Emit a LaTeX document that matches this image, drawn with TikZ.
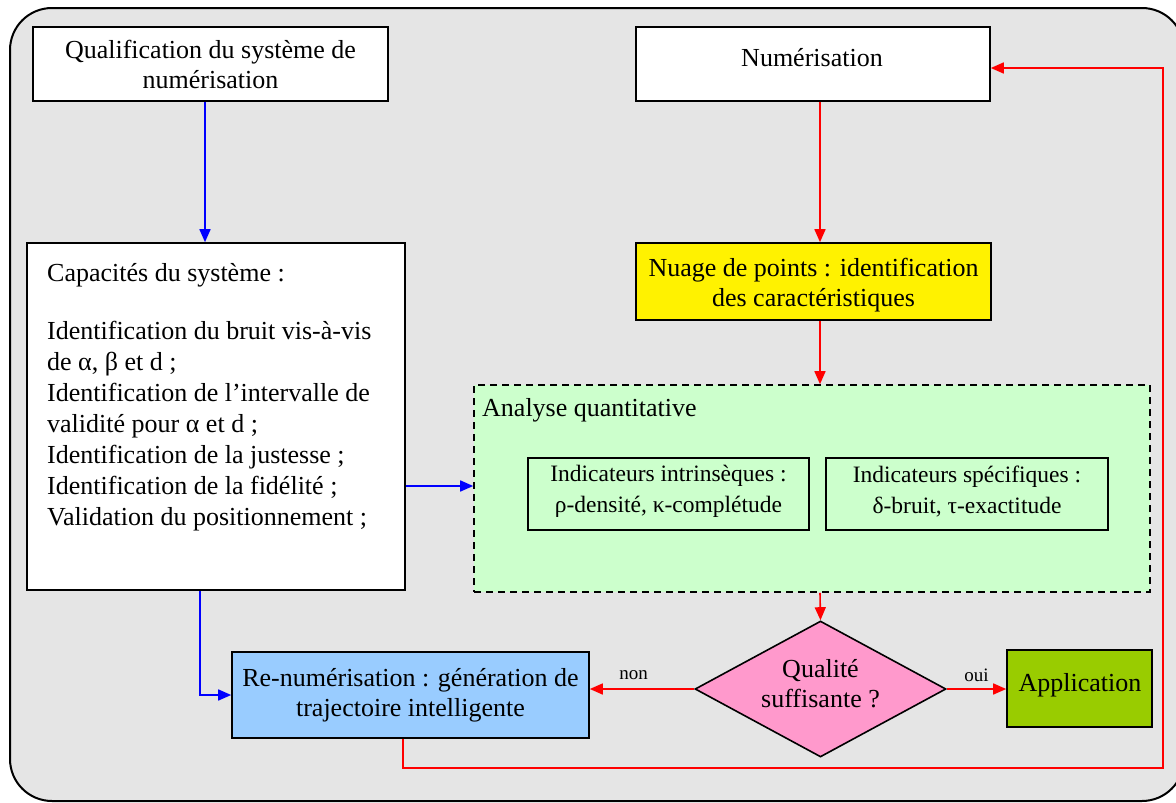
\documentclass[tikz,border=0pt]{standalone}
\usepackage{fontspec}
\setmainfont{Liberation Serif}
\usetikzlibrary{arrows.meta,shapes.geometric}
\definecolor{bggray}{HTML}{E5E5E5}
\definecolor{aqgreen}{HTML}{CCFFCC}
\definecolor{renblue}{HTML}{99CCFF}
\definecolor{qpink}{HTML}{FF99CC}
\definecolor{appgreen}{HTML}{99CC00}
\definecolor{arrblue}{HTML}{0000FF}
\definecolor{arrred}{HTML}{FF0000}
\tikzset{
  box/.style={draw=black, line width=1.6pt, inner sep=0pt, align=center,
    font=\fontsize{26}{30}\selectfont},
  smallbox/.style={draw=black, line width=1.6pt, inner sep=0pt, align=center,
    font=\fontsize{23.5}{31}\selectfont},
  plaintext/.style={inner sep=0pt, align=center, font=\fontsize{26}{30}\selectfont},
  blueconn/.style={draw=arrblue, line width=1.6pt, -{Triangle[length=13pt,width=11pt]}},
  redconn/.style={draw=arrred, line width=1.6pt, -{Triangle[length=13pt,width=11pt]}},
  lbl/.style={inner sep=0pt, font=\fontsize{19}{22}\selectfont},
}
\begin{document}
\begin{tikzpicture}[x=1pt,y=-1pt]
\useasboundingbox (0,0) rectangle (1176,803);
\begin{scope}
\clip (0,0) rectangle (1176,803);
\draw[fill=bggray, line width=2pt, rounded corners=42pt] (10,8) rectangle (1184,801);
\end{scope}
% nodes
\node[box, fill=white, minimum width=355pt, minimum height=74pt] (qual) at (210.5,64)
  {Qualification du système de\\numérisation};
\node[box, fill=white, minimum width=354pt, minimum height=74pt] (num) at (813,64) {};
\node[plaintext] (numtxt) at (812,58) {Numérisation};
\node[box, fill=white, minimum width=378pt, minimum height=347pt] (cap) at (216,416.5) {};
\node[anchor=north west, inner sep=0pt, align=left, font=\fontsize{26}{31}\selectfont] (captxt) at (47,263)
  {Capacités du système :\\[27pt]
   Identification du bruit vis-à-vis\\
   de α, β et d ;\\
   Identification de l’intervalle de\\
   validité pour α et d ;\\
   Identification de la justesse ;\\
   Identification de la fidélité ;\\
   Validation du positionnement ;};
\node[box, fill=yellow, minimum width=355pt, minimum height=77pt] (nuage) at (813.5,281.5) {};
\node[plaintext] (nuagetxt) at (813.5,285)
  {Nuage de points : identification\\des caractéristiques};
\node[draw=black, fill=aqgreen, line width=1.6pt, dash pattern=on 7pt off 5pt,
  minimum width=676pt, minimum height=207pt, inner sep=0pt] (aq) at (812,488.5) {};
\node[anchor=west, inner sep=0pt, font=\fontsize{26}{30}\selectfont] (aqtxt) at (482,410)
  {Analyse quantitative};
\node[smallbox, minimum width=281pt, minimum height=72pt] (ind1) at (668.5,494) {};
\node[smallbox, draw=none] (ind1txt) at (668.5,491.5)
  {Indicateurs intrinsèques :\\ρ-densité, κ-complétude};
\node[smallbox, minimum width=282pt, minimum height=72pt] (ind2) at (967,494) {};
\node[smallbox, draw=none] (ind2txt) at (967,491.5)
  {Indicateurs spécifiques :\\δ-bruit, τ-exactitude};
\node[box, fill=renblue, minimum width=357pt, minimum height=86pt] (renum) at (410.5,695)
  {Re-numérisation : génération de\\trajectoire intelligente};
\node[diamond, draw=black, fill=qpink, line width=1.6pt, aspect=1.85, inner sep=0pt,
  minimum width=251pt, minimum height=136pt] (q) at (820.5,689) {};
\node[plaintext] (qtxt) at (820.5,684) {Qualité\\suffisante ?};
\node[box, fill=appgreen, minimum width=145pt, minimum height=77pt] (app) at (1079.5,688.5) {};
\node[plaintext] (apptxt) at (1080,685.5) {Application};
% helper coordinates
\coordinate (bx1) at (205,0);
\coordinate (bx2) at (200,0);
\coordinate (rx) at (820,0);
\coordinate (lb) at (403,768);
\coordinate (rt) at (1163,68);
% connectors
\draw[blueconn] (qual.south -| bx1) -- (cap.north -| bx1);
\draw[blueconn] (cap.east |- 0,486) coordinate (capout) -- (aq.west |- capout);
\draw[blueconn] (cap.south -| bx2) |- (renum.west);
\draw[redconn] (num.south -| rx) -- (nuage.north -| rx);
\draw[redconn] (nuage.south -| rx) -- (aq.north -| rx);
\draw[redconn] (aq.south -| rx) -- (q.north);
\draw[redconn] (q.west) -- (renum.east |- q.west) node[lbl, pos=0.58, above=9pt] (non) {non};
\draw[redconn] (q.east) -- (app.west |- q.east) node[lbl, pos=0.5, above=7pt] (oui) {oui};
\draw[redconn] (renum.south -| lb) -- (lb) -| (rt) -- (num.east |- rt);
\end{tikzpicture}
\end{document}
